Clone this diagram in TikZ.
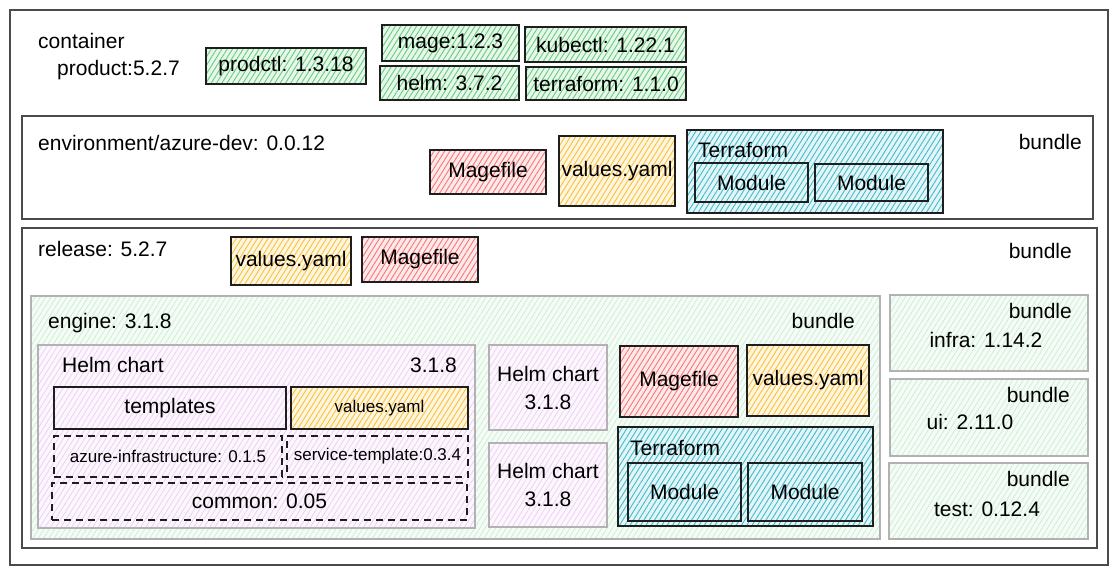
\documentclass[tikz,border=0pt]{standalone}
\usepackage{fontspec}
\setmainfont{Liberation Sans}
\usepackage{tikz}
\usetikzlibrary{positioning,patterns.meta}

\definecolor{toolgreen}{RGB}{64,192,87}
\definecolor{magered}{RGB}{250,82,82}
\definecolor{yamlorange}{RGB}{250,176,5}
\definecolor{tfteal}{RGB}{21,170,191}
\definecolor{helmpurple}{RGB}{190,75,219}
\definecolor{frame}{RGB}{30,30,30}

\newcommand\mainfs{\fontsize{21}{25}\selectfont}
\newcommand\smallfs{\fontsize{17}{20}\selectfont}

\tikzset{
    box/.style={
        rectangle,                 % Shape
        draw=frame,                % Border color
        line width=1.4pt,          % Sketchy stroke
        inner sep=0pt,
        align=center,
        font=\mainfs
    },
    hatch/.style={
        preaction={fill=#1!12},
        pattern={Lines[angle=58,distance=4.5pt,line width=0.9pt]},
        pattern color=#1!80
    },
    faint/.style={
        preaction={fill=#1!5},
        pattern={Lines[angle=58,distance=4.5pt,line width=0.7pt]},
        pattern color=#1!28,
        draw=gray!60
    },
    tool/.style={box, hatch=toolgreen},
    magefile/.style={box, hatch=magered},
    yaml/.style={box, hatch=yamlorange},
    tform/.style={box, hatch=tfteal},
    group/.style={box, draw=frame!80, line width=1.1pt},
    bundlebox/.style={box, faint=toolgreen},
    helmbox/.style={box, faint=helmpurple},
    dep/.style={box, dashed, dash pattern=on 7pt off 5pt, line width=1.1pt},
    lbl/.style={anchor=base west, inner sep=0pt, font=\mainfs},
    tag/.style={anchor=base east, inner sep=0pt, font=\mainfs}
}

\begin{document}
\begin{tikzpicture}[x=1pt, y=-1pt]

    \useasboundingbox (0,0) rectangle (1116,574);

    % Container
    \node[group, line width=1.3pt, minimum width=1098pt, minimum height=555pt] (container) at (559,287.5) {};
    \node[lbl] (containerlbl) at (38,48) {container};
    \node[lbl] (productlbl) at (57,75) {product:5.2.7};

    % Tools
    \node[tool, minimum width=160pt, minimum height=36pt] (prodctl) at (286,66) {prodctl: 1.3.18};
    \node[tool, minimum width=137pt, minimum height=36pt] (mage) at (450.5,43) {mage:1.2.3};
    \node[tool, minimum width=161pt, minimum height=35pt] (kubectl) at (605.5,44.5) {kubectl: 1.22.1};
    \node[tool, minimum width=139pt, minimum height=34pt] (helm) at (449.5,83) {helm: 3.7.2};
    \node[tool, minimum width=160pt, minimum height=33pt] (terraform) at (606,83.5) {terraform: 1.1.0};

    % Environment bundle
    \node[group, minimum width=1071pt, minimum height=103pt] (env) at (557.5,167.5) {};
    \node[lbl] (envlbl) at (38,150) {environment/azure-dev: 0.0.12};
    \node[tag] (envtag) at (1082,149) {bundle};
    \node[magefile, minimum width=116pt, minimum height=44pt] (envmage) at (488,172) {Magefile};
    \node[yaml, minimum width=116pt, minimum height=70pt] (envvalues) at (617,171) {values.yaml};
    \node[tform, minimum width=256pt, minimum height=83pt] (envtf) at (815,171.5) {};
    \node[lbl] (envtflbl) at (698,157) {Terraform};
    \node[box, minimum width=113pt, minimum height=39pt] (envmod1) at (751.5,182.5) {Module};
    \node[box, minimum width=113pt, minimum height=37pt] (envmod2) at (871.5,182.5) {Module};

    % Release bundle
    \node[group, minimum width=1075pt, minimum height=320pt] (release) at (559.5,388) {};
    \node[lbl] (releaselbl) at (38,256) {release: 5.2.7};
    \node[tag] (releasetag) at (1072,258) {bundle};
    \node[yaml, minimum width=120pt, minimum height=48pt] (relvalues) at (291,261) {values.yaml};
    \node[magefile, minimum width=116pt, minimum height=45pt] (relmage) at (420,259.5) {Magefile};

    % Engine bundle
    \node[bundlebox, minimum width=849pt, minimum height=243pt] (engine) at (455.5,417.5) {};
    \node[lbl] (enginelbl) at (48,328) {engine: 3.1.8};
    \node[tag] (enginetag) at (855,328) {bundle};

    % Helm chart with dependencies
    \node[helmbox, minimum width=437pt, minimum height=183pt] (chart) at (256.5,436.5) {};
    \node[lbl] (chartlbl) at (62,372) {Helm chart};
    \node[tag] (chartver) at (457,372) {3.1.8};
    \node[helmbox, draw=frame, minimum width=232pt, minimum height=42pt] (templates) at (170,408) {templates};
    \node[yaml, font=\smallfs, minimum width=177pt, minimum height=42pt] (chartvalues) at (379.5,408) {values.yaml};
    \node[dep, font=\smallfs, minimum width=228pt, minimum height=41pt] (azureinfra) at (168,456.5) {azure-infrastructure: 0.1.5};
    \node[dep, font=\smallfs, minimum width=181pt, minimum height=41pt] (svctemplate) at (377.5,456.5) {service-template:0.3.4};
    \node[dep, minimum width=415pt, minimum height=37pt] (common) at (259.5,501.5) {common: 0.05};

    % Other charts
    \node[helmbox, minimum width=118pt, minimum height=85pt] (chart2) at (548,387.5) {Helm chart\\[3pt]3.1.8};
    \node[helmbox, minimum width=118pt, minimum height=84pt] (chart3) at (548,485) {Helm chart\\[3pt]3.1.8};

    % Engine files
    \node[magefile, minimum width=118pt, minimum height=71pt] (engmage) at (679,381.5) {Magefile};
    \node[yaml, minimum width=122pt, minimum height=71pt] (engvalues) at (808,380.5) {values.yaml};
    \node[tform, minimum width=255pt, minimum height=99pt] (engtf) at (745.5,476.5) {};
    \node[lbl] (engtflbl) at (630,455) {Terraform};
    \node[box, minimum width=113pt, minimum height=58pt] (engmod1) at (684.5,492) {Module};
    \node[box, minimum width=114pt, minimum height=58pt] (engmod2) at (805,492) {Module};

    % Side bundles
    \node[bundlebox, minimum width=198pt, minimum height=76pt] (infra) at (989,333) {};
    \node[tag] (infratag) at (1072,318) {bundle};
    \node[anchor=base, inner sep=0pt, font=\mainfs] (infralbl) at (986,347) {infra: 1.14.2};

    \node[bundlebox, minimum width=198pt, minimum height=77pt] (ui) at (989,417.5) {};
    \node[tag] (uitag) at (1070,402) {bundle};
    \node[anchor=base, inner sep=0pt, font=\mainfs] (uilbl) at (970,429) {ui: 2.11.0};

    \node[bundlebox, minimum width=199pt, minimum height=76pt] (test) at (988.5,501) {};
    \node[tag] (testtag) at (1070,486) {bundle};
    \node[anchor=base, inner sep=0pt, font=\mainfs] (testlbl) at (987,516) {test: 0.12.4};

\end{tikzpicture}
\end{document}
